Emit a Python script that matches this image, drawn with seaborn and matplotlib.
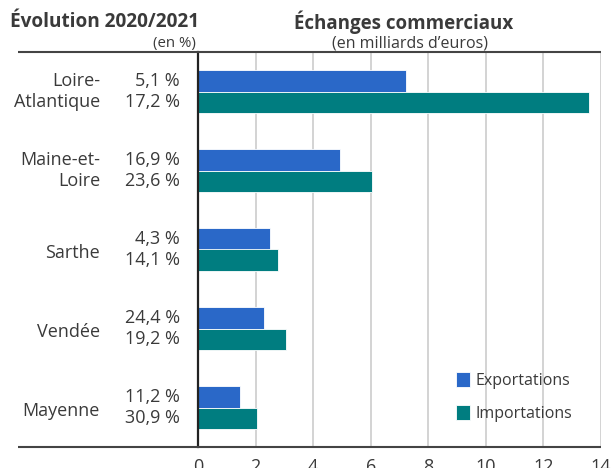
import matplotlib
matplotlib.use("Agg")
import matplotlib.pyplot as plt
import matplotlib.transforms as mtransforms
import seaborn as sns
import pandas as pd

# Regional trade data (billions of euros) and 2020/2021 change
regions = ["Loire-\nAtlantique", "Maine-et-\nLoire", "Sarthe", "Vendée", "Mayenne"]
exports = [7.23, 4.94, 2.51, 2.29, 1.47]
imports = [13.58, 6.04, 2.79, 3.04, 2.04]
evol_exports = ["5,1 %", "16,9 %", "4,3 %", "24,4 %", "11,2 %"]
evol_imports = ["17,2 %", "23,6 %", "14,1 %", "19,2 %", "30,9 %"]
series = ["Exportations", "Importations"]
xticks = [0, 2, 4, 6, 8, 10, 12, 14]

BLUE = "#2a68c8"
TEAL = "#007d80"
TEXT = "#3a3a3a"

df = pd.DataFrame({
    "region": regions * 2,
    "flux": [series[0]] * len(regions) + [series[1]] * len(regions),
    "valeur": exports + imports,
})

sns.set_theme(style="white")
plt.rcParams["font.family"] = ["Open Sans", "DejaVu Sans"]

W, H = 612, 468
fig = plt.figure(figsize=(W / 100, H / 100), dpi=100)
ax = fig.add_axes([198 / W, 1 - 447 / H, (601 - 198) / W, (447 - 52) / H])

sns.barplot(data=df, y="region", x="valeur", hue="flux", order=regions,
            hue_order=series, palette=[BLUE, TEAL], saturation=1, orient="h",
            width=0.54, edgecolor="white", linewidth=0.6, ax=ax, zorder=3)

ax.set_xlim(0, 14)
ax.set_ylim(4.5, -0.5)
ax.set_xticks(xticks)
ax.set_xticklabels([str(t) for t in xticks], fontsize=13, color=TEXT)
ax.tick_params(axis="x", length=0, pad=8)
ax.set_yticks([])
ax.set_xlabel("")
ax.set_ylabel("")

# Vertical gridlines
for t in xticks[1:]:
    ax.axvline(t, color="#cccccc", lw=1.2, zorder=1)

for s in ["top", "right", "bottom"]:
    ax.spines[s].set_visible(False)
ax.spines["left"].set_color("#222222")
ax.spines["left"].set_linewidth(1.6)
ax.spines["left"].set_zorder(4)

# Horizontal rules extending under the label columns
x0 = (18 - 198) / (601 - 198)
for yy in (0, 1):
    ax.plot([x0, 1], [yy, yy], transform=ax.transAxes, color="#444444",
            lw=1.5, clip_on=False, zorder=5, solid_capstyle="butt")

# Label columns
tr = mtransforms.blended_transform_factory(fig.transFigure, ax.transData)
off = 0.138
for i, name in enumerate(regions):
    ax.text(100 / W, i + (0.0 if "\n" in name else 0.05), name, transform=tr,
            ha="right", va="center", multialignment="right", fontsize=13,
            color=TEXT, linespacing=1.28)
    ax.text(180 / W, i - off, evol_exports[i], transform=tr, ha="right",
            va="center", fontsize=13, color=TEXT)
    ax.text(180 / W, i + off, evol_imports[i], transform=tr, ha="right",
            va="center", fontsize=13, color=TEXT)

# Headers
fig.text(10 / W, 1 - 22 / H, "Évolution 2020/2021", ha="left", va="center",
         fontsize=13.7, fontweight="bold", color=TEXT)
fig.text(196 / W, 1 - 43 / H, "(en %)", ha="right", va="center",
         fontsize=10.8, color=TEXT)
fig.text(404 / W, 1 - 22 / H, "Échanges commerciaux", ha="center", va="center",
         fontsize=13.5, fontweight="bold", color=TEXT)
fig.text(410 / W, 1 - 43 / H, "(en milliards d’euros)", ha="center", va="center",
         fontsize=11.5, color=TEXT)

# Legend
ax.legend(loc="upper left", bbox_to_anchor=(448 / W, 1 - 364 / H),
          bbox_transform=fig.transFigure, frameon=False, fontsize=11.5,
          handlelength=0.9, handleheight=1.1, handletextpad=0.35,
          labelspacing=1.0, labelcolor=TEXT, borderpad=0)

fig.savefig("out.png", dpi=100)
